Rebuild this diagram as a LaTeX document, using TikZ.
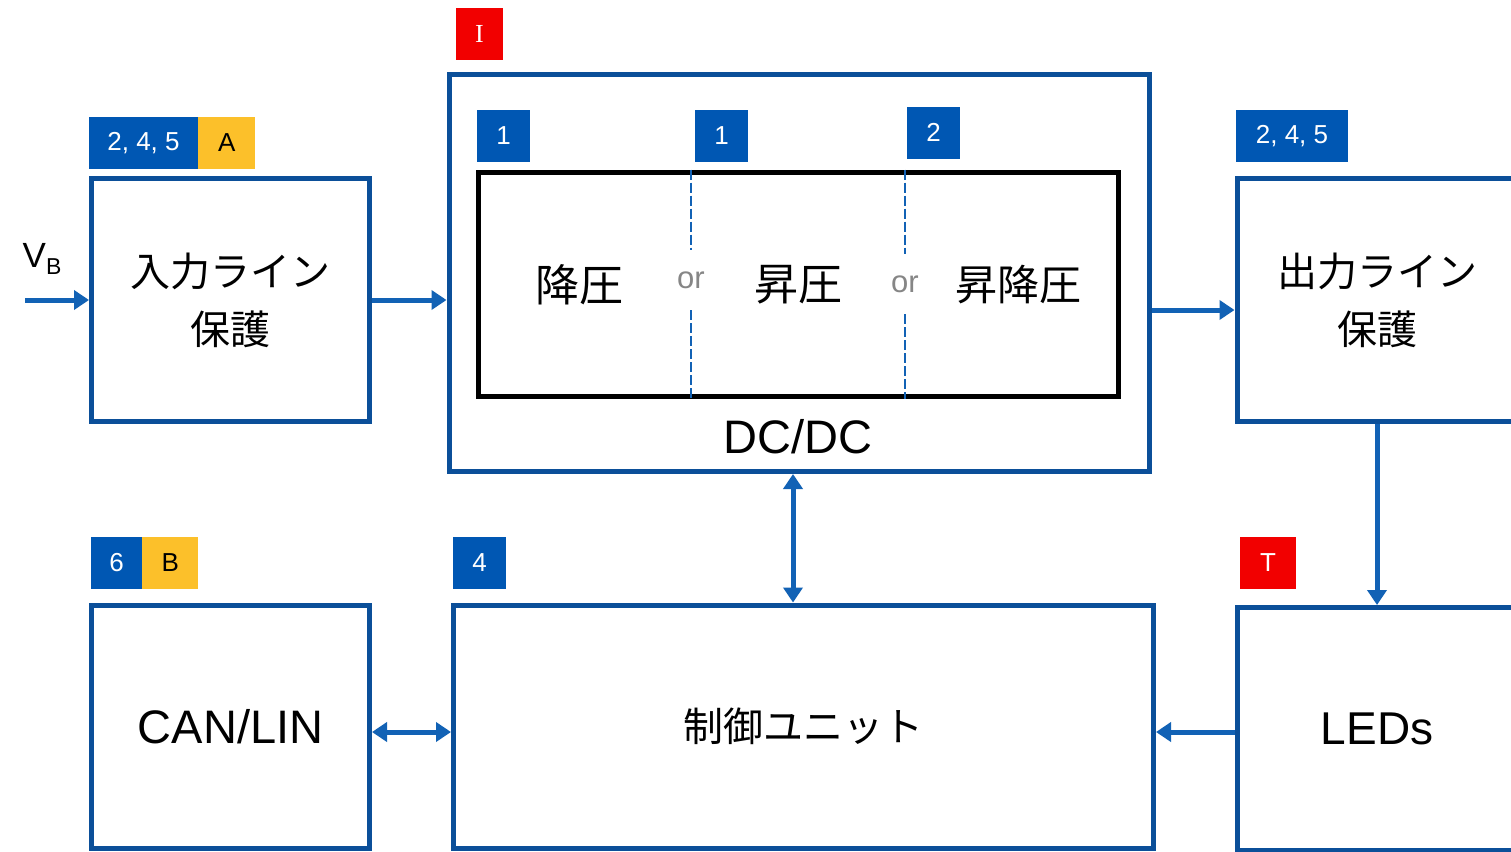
\documentclass[tikz,border=0pt]{standalone}
\usepackage{xcolor}
\usepackage{fontspec}
\setmainfont{Liberation Sans}
\newfontfamily\jpfont{Noto Sans CJK JP}
\newfontfamily\seriffont{Liberation Serif}
\usepackage{tikz}
\usetikzlibrary{arrows.meta, positioning}

\definecolor{boxblue}{HTML}{0B4F99}
\definecolor{tagblue}{HTML}{0057B3}
\definecolor{arrowblue}{HTML}{1262B5}
\definecolor{tagyellow}{HTML}{FCC02A}
\definecolor{tagred}{HTML}{F20000}

\begin{document}
\begin{tikzpicture}[x=1pt, y=-1pt]
\tikzstyle{block} = [rectangle, draw=boxblue, line width=5pt, minimum width=278pt, minimum height=243pt, inner sep=0pt, align=center, font=\fontsize{40}{58}\selectfont\jpfont]
\tikzstyle{tag} = [rectangle, fill=tagblue, text=white, minimum width=53pt, minimum height=52pt, inner sep=0pt, font=\fontsize{26}{26}\selectfont]
\tikzstyle{ytag} = [tag, fill=tagyellow, text=black]
\tikzstyle{rtag} = [tag, fill=tagred]
\tikzstyle{label} = [inner sep=0pt, font=\fontsize{44}{44}\selectfont\jpfont]
\tikzstyle{ortext} = [fill=white, inner sep=0pt, minimum height=60pt, text=gray!95, font=\fontsize{31}{31}\selectfont]
\tikzstyle{divider} = [arrowblue, line width=1.5pt, dash pattern=on 10pt off 3pt]
\tikzstyle{arrow} = [arrowblue, line width=5pt, -{Triangle[length=15pt, width=19pt]}]
\tikzstyle{biarrow} = [arrowblue, line width=5pt, {Triangle[length=15pt, width=19pt]}-{Triangle[length=15pt, width=19pt]}]

\clip (0,0) rectangle (1511,851);
\fill [white] (0,0) rectangle (1511,851);

% blocks
\node (inprot) [block] at (230.5,300) {入力ライン\\保護};
\node (dcdc) [block, minimum width=700pt, minimum height=397pt] at (799,273) {};
\node (conv) [rectangle, draw=black, line width=5pt, minimum width=640pt, minimum height=224pt] at (798,284) {};
\node (outprot) [block, minimum width=280pt] at (1377,300) {出力ライン\\保護};
\node (canlin) [block, font=\fontsize{47}{50}\selectfont] at (230.5,726.5) {CAN/LIN};
\node (ctrl) [block, minimum width=700pt] at (803.5,726.5) {制御ユニット};
\node (leds) [block, minimum width=280pt, font=\fontsize{46}{50}\selectfont] at (1377,729) {LEDs};

% inside the DC/DC block
\node (buck) [label] at (579,285) {降圧};
\node (or1) [ortext] at (691,280) {or};
\node (boost) [label] at (798,285) {昇圧};
\node (or2) [ortext] at (905,284) {or};
\node (buckboost) [label, font=\fontsize{42}{42}\selectfont\jpfont] at (1018,285) {昇降圧};
\node (dclabel) [inner sep=0pt, font=\fontsize{47}{47}\selectfont] at (798,437) {DC/DC};
\draw [divider] (or1.north |- conv.north) -- (or1.north);
\draw [divider] (or1.south) -- (or1.south |- conv.south);
\draw [divider] (or2.north |- conv.north) -- (or2.north);
\draw [divider] (or2.south) -- (or2.south |- conv.south);

% tags
\node (t245a) [tag, minimum width=109pt] at (143.5,143) {2, 4, 5};
\node (ta) [ytag, minimum width=57pt, right=0pt of t245a] {A};
\node (ti) [rtag, minimum width=47pt, font=\fontsize{26}{26}\selectfont\seriffont] at (479.5,34) {I};
\node (t1a) [tag] at (503.5,136) {1};
\node (t1b) [tag] at (721.5,136) {1};
\node (t2) [tag] at (933.5,132.5) {2};
\node (t245b) [tag, minimum width=112pt] at (1292,136) {2, 4, 5};
\node (t6) [tag, minimum width=51pt] at (116.5,563) {6};
\node (tb) [ytag, minimum width=56pt, right=0pt of t6] {B};
\node (t4) [tag] at (479.5,563) {4};
\node (tt) [rtag, minimum width=56pt] at (1268,563) {T};

% supply input
\node (vb) [inner sep=0pt, font=\fontsize{35}{35}\selectfont] at (42,259) {V\raisebox{-7pt}{\fontsize{23}{23}\selectfont B}};
\coordinate (vbin) at (25,300);

% connections
\draw [arrow] (vbin) -- (inprot.west);
\draw [arrow] (inprot.east) -- ([yshift=-27pt]dcdc.west);
\draw [arrow] ([yshift=-37pt]dcdc.east) -- ([yshift=-10pt]outprot.west);
\draw [arrow] (outprot.south) -- (leds.north);
\draw [arrow] ([yshift=-3pt]leds.west) -- ([yshift=-5.5pt]ctrl.east);
\draw [biarrow] ([yshift=-5.5pt]canlin.east) -- ([yshift=-5.5pt]ctrl.west);
\draw [biarrow] ([xshift=-6pt]dcdc.south) -- ([xshift=-10.5pt]ctrl.north);

\end{tikzpicture}
\end{document}
